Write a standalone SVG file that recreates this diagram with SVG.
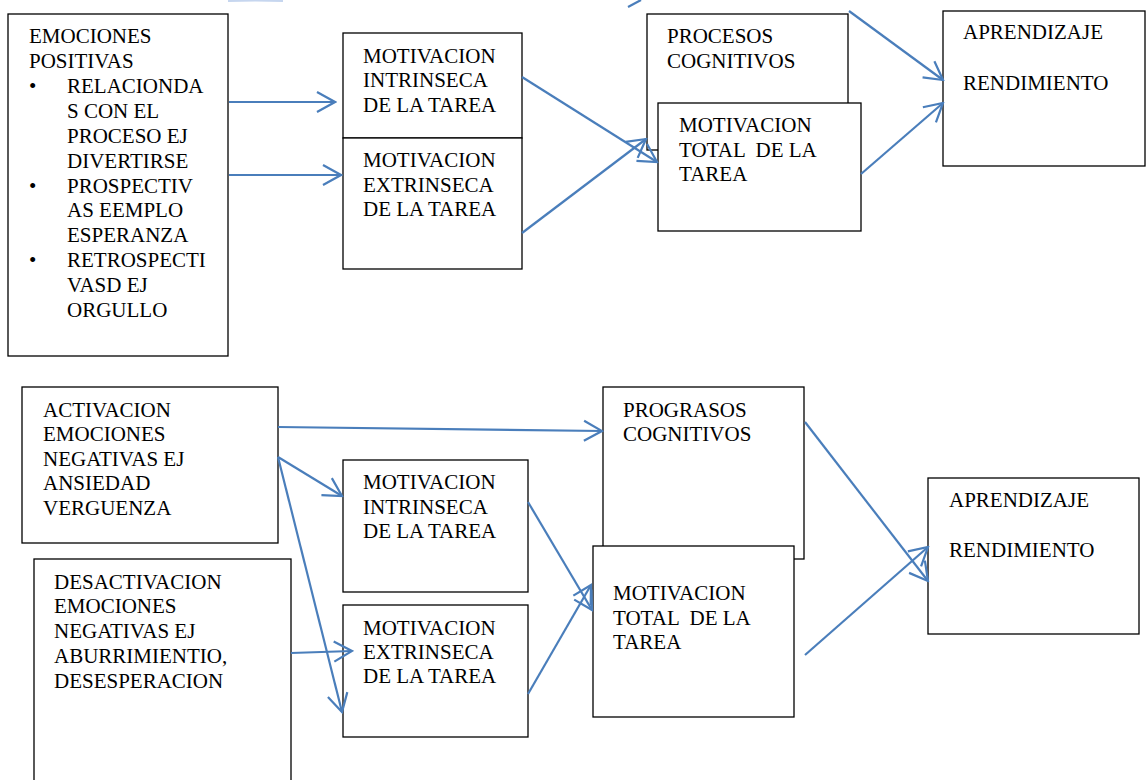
<svg xmlns="http://www.w3.org/2000/svg" width="1146" height="780" viewBox="0 0 1146 780">
<style>
.box{fill:#fff;stroke:#000;stroke-width:1.3}
.txt{font-family:"Liberation Serif","Times New Roman",serif;font-size:21px;fill:#000}
.txt text{white-space:pre}
.c{fill:none;stroke:#4a7ebb;stroke-width:2.2;marker-end:url(#ah)}
.s{fill:none;stroke:#4a7ebb;stroke-width:2.2}
</style>
<defs>
<marker id="ah" markerUnits="userSpaceOnUse" markerWidth="22" markerHeight="24" viewBox="0 0 22 24" refX="20" refY="12" orient="auto">
<path d="M2,2 L20,12 L2,22" fill="none" stroke="#4a7ebb" stroke-width="2.2"/>
</marker>
</defs>
<rect width="1146" height="780" fill="#fff"/>
<g class="txt">
<g id="emociones-positivas">
<rect class="box" x="8" y="14" width="220" height="342"/>
<text x="29" y="43">EMOCIONES</text>
<text x="29" y="68">POSITIVAS</text>
<text x="29" y="93">•</text>
<text x="67" y="93">RELACIONDA</text>
<text x="67" y="118">S CON EL</text>
<text x="67" y="143">PROCESO EJ</text>
<text x="67" y="168">DIVERTIRSE</text>
<text x="29" y="193">•</text>
<text x="67" y="193">PROSPECTIV</text>
<text x="67" y="217">AS EEMPLO</text>
<text x="67" y="242">ESPERANZA</text>
<text x="29" y="267">•</text>
<text x="67" y="267">RETROSPECTI</text>
<text x="67" y="292">VASD EJ</text>
<text x="67" y="317">ORGULLO</text>
</g>
<g id="motivacion-intrinseca-1">
<rect class="box" x="343" y="33" width="179" height="105"/>
<text x="363" y="63">MOTIVACION</text>
<text x="363" y="87">INTRINSECA</text>
<text x="363" y="112">DE LA TAREA</text>
</g>
<g id="motivacion-extrinseca-1">
<rect class="box" x="343" y="138" width="179" height="131"/>
<text x="363" y="167">MOTIVACION</text>
<text x="363" y="192">EXTRINSECA</text>
<text x="363" y="216">DE LA TAREA</text>
</g>
<g id="procesos-cognitivos">
<rect class="box" x="647" y="14" width="201" height="136"/>
<text x="667" y="43">PROCESOS</text>
<text x="667" y="68">COGNITIVOS</text>
</g>
<g id="motivacion-total-1">
<rect class="box" x="658" y="103" width="203" height="128"/>
<text x="679" y="132">MOTIVACION</text>
<text x="679" y="157" xml:space="preserve">TOTAL  DE LA</text>
<text x="679" y="181">TAREA</text>
</g>
<g id="aprendizaje-1">
<rect class="box" x="943" y="11" width="202" height="155"/>
<text x="963" y="39">APRENDIZAJE</text>
<text x="963" y="90">RENDIMIENTO</text>
</g>
<g id="activacion">
<rect class="box" x="22" y="387" width="256" height="156"/>
<text x="43" y="417">ACTIVACION</text>
<text x="43" y="441">EMOCIONES</text>
<text x="43" y="466">NEGATIVAS EJ</text>
<text x="43" y="490">ANSIEDAD</text>
<text x="43" y="515">VERGUENZA</text>
</g>
<g id="desactivacion">
<rect class="box" x="34" y="559" width="257" height="240"/>
<text x="54" y="589">DESACTIVACION</text>
<text x="54" y="613">EMOCIONES</text>
<text x="54" y="638">NEGATIVAS EJ</text>
<text x="54" y="663">ABURRIMIENTIO,</text>
<text x="54" y="688">DESESPERACION</text>
</g>
<g id="motivacion-intrinseca-2">
<rect class="box" x="343" y="460" width="185" height="132"/>
<text x="363" y="489">MOTIVACION</text>
<text x="363" y="514">INTRINSECA</text>
<text x="363" y="538">DE LA TAREA</text>
</g>
<g id="motivacion-extrinseca-2">
<rect class="box" x="343" y="605" width="185" height="132"/>
<text x="363" y="635">MOTIVACION</text>
<text x="363" y="659">EXTRINSECA</text>
<text x="363" y="683">DE LA TAREA</text>
</g>
<g id="progresos-cognitivos">
<rect class="box" x="603" y="387" width="201" height="172"/>
<text x="623" y="417">PROGRASOS</text>
<text x="623" y="441">COGNITIVOS</text>
</g>
<g id="motivacion-total-2">
<rect class="box" x="593" y="546" width="201" height="171"/>
<text x="613" y="600">MOTIVACION</text>
<text x="613" y="625" xml:space="preserve">TOTAL  DE LA</text>
<text x="613" y="649">TAREA</text>
</g>
<g id="aprendizaje-2">
<rect class="box" x="928" y="478" width="211" height="156"/>
<text x="949" y="507">APRENDIZAJE</text>
<text x="949" y="557">RENDIMIENTO</text>
</g>
</g>
<g id="connectors">
<path d="M228,1 Q255,0 283,1" fill="none" stroke="#c6d6ef" stroke-width="2"/>
<line class="s" x1="628" y1="7" x2="641" y2="0"/>
<line class="c" x1="229" y1="102" x2="335" y2="102"/>
<line class="c" x1="229" y1="175" x2="341" y2="175"/>
<line class="c" x1="522" y1="77" x2="657" y2="162"/>
<line class="c" x1="522" y1="233" x2="646" y2="139"/>
<line class="c" x1="849" y1="11" x2="943" y2="80"/>
<line class="c" x1="861" y1="174" x2="943" y2="103"/>
<line class="c" x1="278" y1="427" x2="602" y2="431"/>
<line class="c" x1="278" y1="457" x2="342" y2="496"/>
<line class="c" x1="278" y1="457" x2="342" y2="712"/>
<line class="c" x1="291" y1="653" x2="352" y2="651"/>
<line class="c" x1="528" y1="502" x2="592" y2="610"/>
<line class="c" x1="528" y1="694" x2="591" y2="585"/>
<line class="c" x1="805" y1="422" x2="928" y2="581"/>
<line class="c" x1="805" y1="655" x2="928" y2="547"/>
</g>
</svg>
